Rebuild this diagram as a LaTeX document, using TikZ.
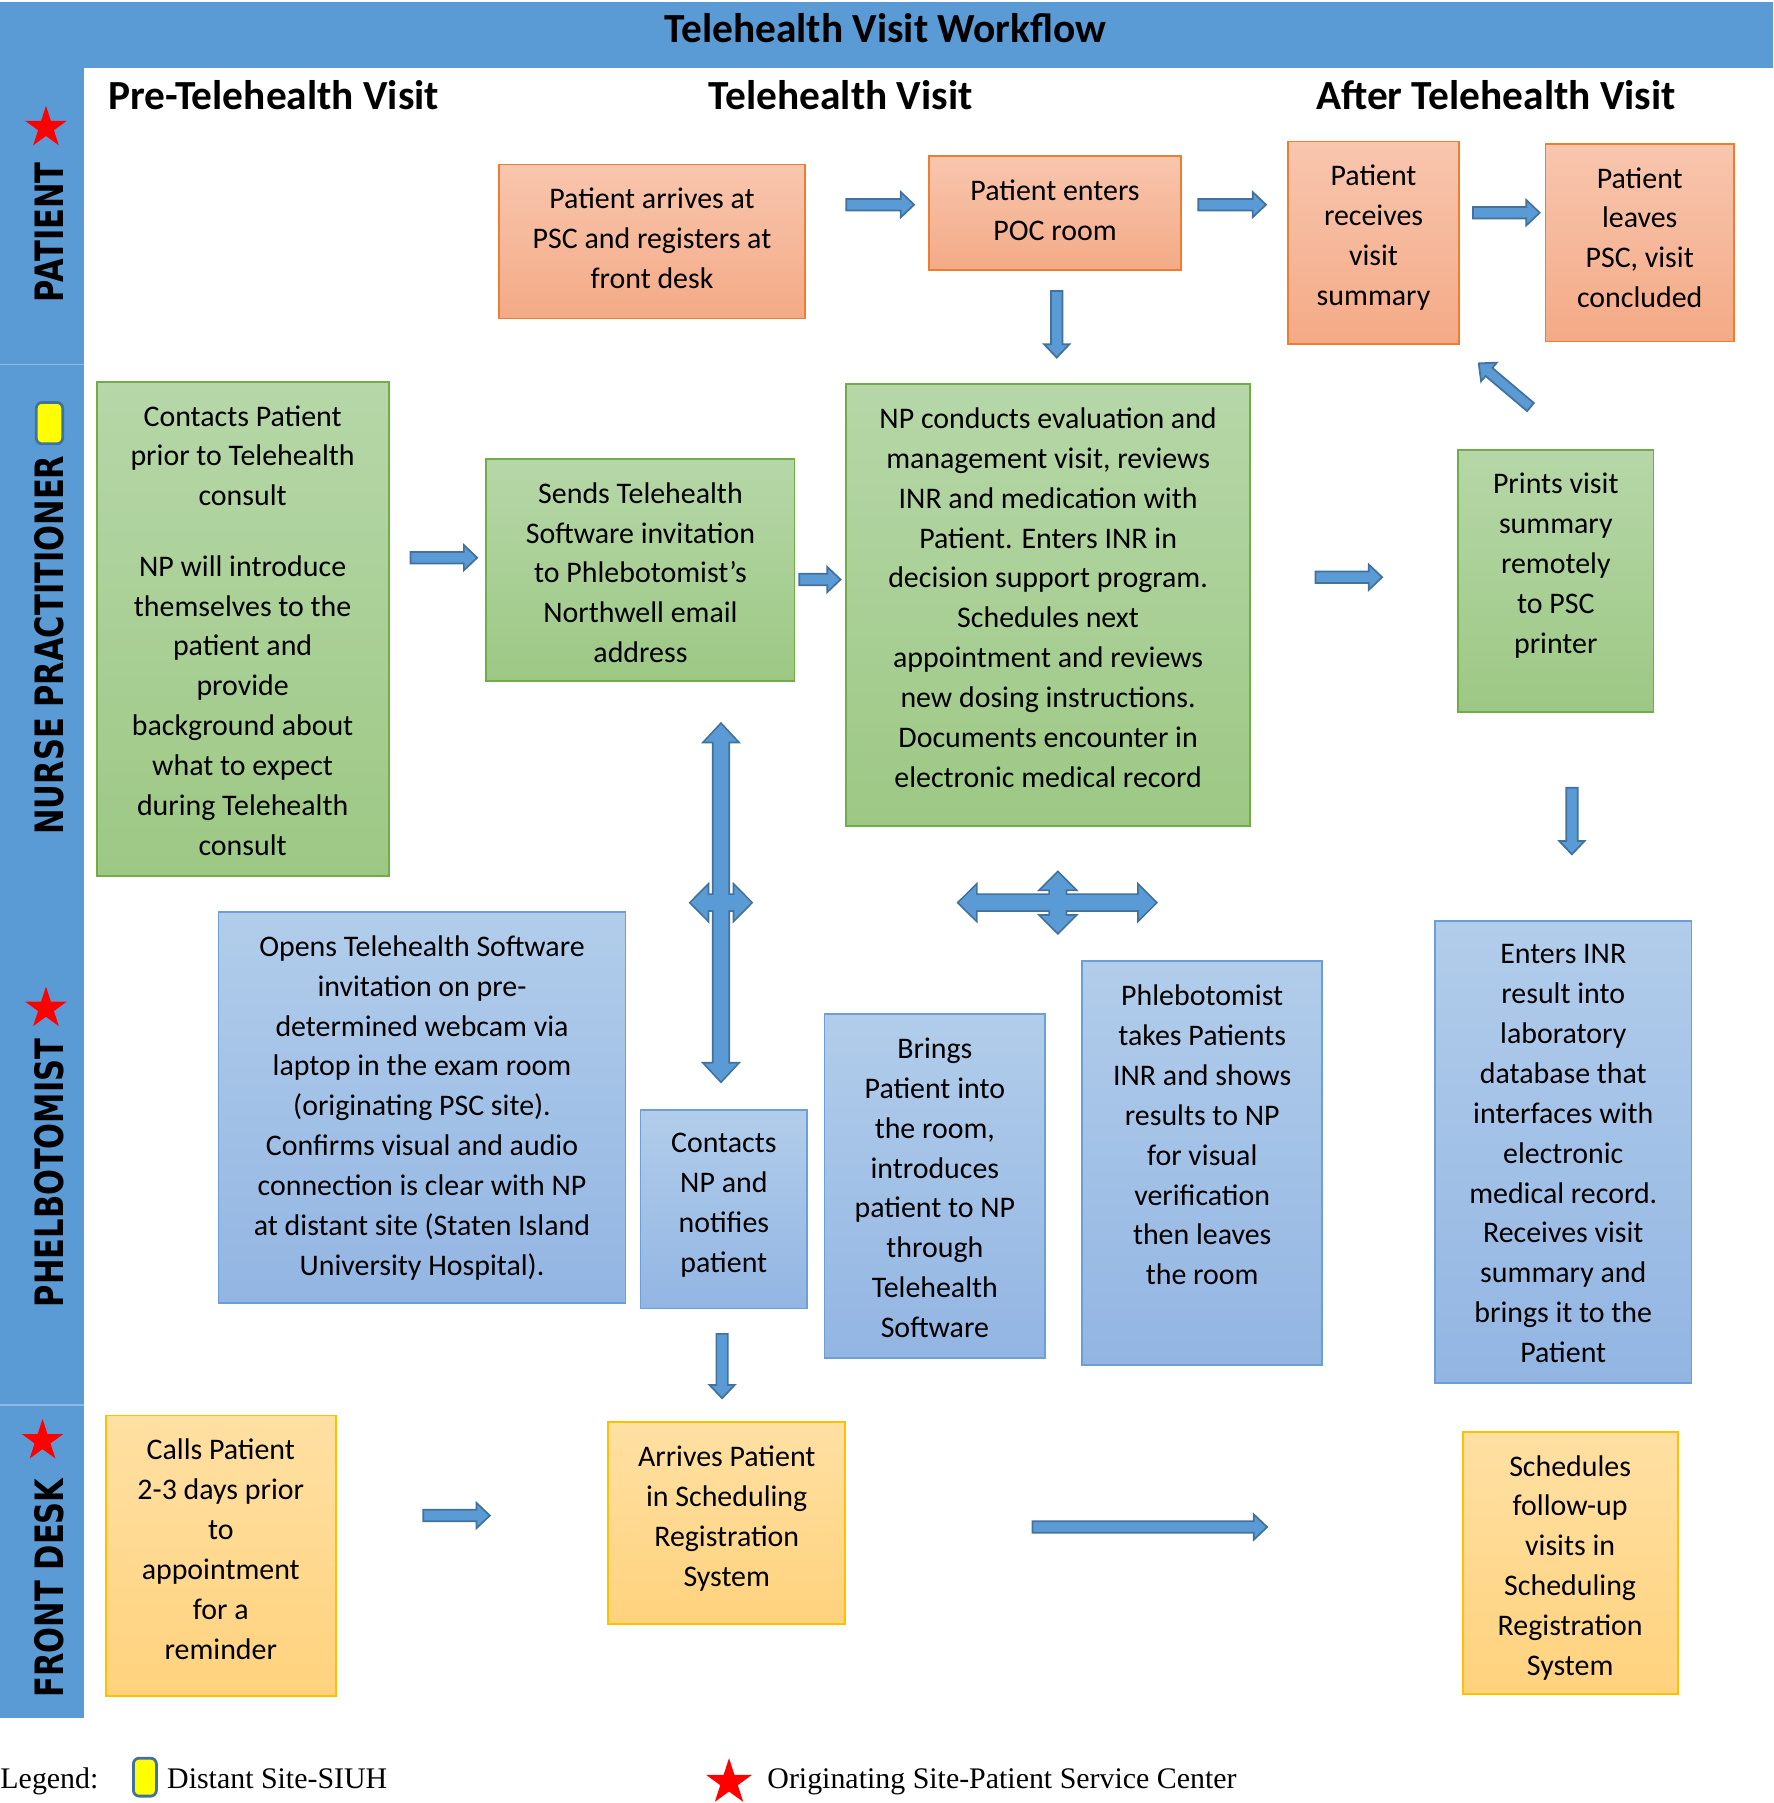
\documentclass[tikz,border=0pt]{standalone}
\usepackage{graphicx}
\usepackage{fontspec}
\setmainfont{Carlito}
\newfontfamily\lanefont{DejaVu Sans}
\newfontfamily\legendfont{Liberation Serif}
\usetikzlibrary{shapes.geometric,calc,fit}

\definecolor{bluebar}{HTML}{5B9BD5}
\definecolor{divcol}{HTML}{8CB8E2}
\definecolor{arrfill}{HTML}{5B9BD5}
\definecolor{arrline}{HTML}{41719C}
\definecolor{otop}{HTML}{F8C6AE}
\definecolor{obot}{HTML}{F4AA86}
\definecolor{oline}{HTML}{ED7D31}
\definecolor{gtop}{HTML}{B6D7A8}
\definecolor{gbot}{HTML}{9DC884}
\definecolor{gline}{HTML}{70AD47}
\definecolor{btop}{HTML}{B2CDEB}
\definecolor{bbot}{HTML}{92B5E2}
\definecolor{bline}{HTML}{6A9FD8}
\definecolor{ytop}{HTML}{FFE0A3}
\definecolor{ybot}{HTML}{FFD27D}
\definecolor{yline}{HTML}{FFC000}
\definecolor{markyellow}{HTML}{FFFF00}

\newcommand\blkarrow[6]{% style, A, B, shaft half, head half, head length
  \path[#1] ($(#2)!#4!90:(#3)$) -- ($(#3)!#6!(#2)!#4!-90:(#2)$) -- ($(#3)!#6!(#2)!#5!-90:(#2)$)
    -- (#3) -- ($(#3)!#6!(#2)!#5!90:(#2)$) -- ($(#3)!#6!(#2)!#4!90:(#2)$) -- ($(#2)!#4!-90:(#3)$) -- cycle;}
\newcommand\dblarrow[6]{% style, A, B, shaft half, head half, head length
  \path[#1] (#2) -- ($(#2)!#6!(#3)!#5!90:(#3)$) -- ($(#2)!#6!(#3)!#4!90:(#3)$)
    -- ($(#3)!#6!(#2)!#4!-90:(#2)$) -- ($(#3)!#6!(#2)!#5!-90:(#2)$) -- (#3)
    -- ($(#3)!#6!(#2)!#5!90:(#2)$) -- ($(#3)!#6!(#2)!#4!90:(#2)$)
    -- ($(#2)!#6!(#3)!#4!-90:(#3)$) -- ($(#2)!#6!(#3)!#5!-90:(#3)$) -- cycle;}

\tikzset{
  wbox/.style={draw, line width=0.8pt, inner sep=0pt},
  obox/.style={wbox, draw=oline, top color=otop, bottom color=obot},
  gbox/.style={wbox, draw=gline, top color=gtop, bottom color=gbot},
  bbox/.style={wbox, draw=bline, top color=btop, bottom color=bbot},
  ybox/.style={wbox, draw=yline, top color=ytop, bottom color=ybot},
  txt/.style={align=center, inner sep=0pt, anchor=north, font=\fontsize{13}{17.33}\selectfont},
  hdr/.style={anchor=base, inner sep=0pt, font=\bfseries\fontsize{18}{22}\selectfont},
  lanelab/.style={rotate=90, anchor=base, inner sep=0pt, font=\lanefont\bfseries\fontsize{17}{20}\selectfont},
  leg/.style={anchor=base west, inner sep=0pt, font=\legendfont\fontsize{13}{15}\selectfont},
  starmark/.style={star, star points=5, star point ratio=2.618, fill=red, draw=none, inner sep=0pt, minimum size=19pt},
  ymark/.style={draw=arrline, line width=1.2pt, fill=markyellow, rounded corners=2.5pt, inner sep=0pt},
  blkarr/.style={fill=arrfill, draw=arrline, line width=0.75pt, line join=miter},
  blkbd/.style={draw=arrline, line width=1.5pt, line join=miter},
  blkfl/.style={fill=arrfill},
}

\begin{document}
\begin{tikzpicture}[x=0.5pt,y=-0.5pt]
\useasboundingbox (0,0) rectangle (1542,1568);

% title bar and side bar
\fill[bluebar] (0,1.5) rectangle (1542,59);
\fill[bluebar] (0,59) rectangle (73,1494);
\draw[divcol, line width=0.6pt] (0,317) -- (73,317);
\draw[divcol, line width=0.6pt] (0,1222) -- (73,1222);
\node[hdr] (title) at (770,37) {Telehealth Visit Workflow};

% column headers
\node[hdr] (h1) at (238,95) {Pre-Telehealth Visit};
\node[hdr] (h2) at (731,95) {Telehealth Visit};
\node[hdr] (h3) at (1301,95) {After Telehealth Visit};

% lane labels
\node[starmark] (st1) at (40,111) {};
\node[lanelab] (lpat) at (55,202) {\scalebox{0.78}[1]{PATIENT}};
\node[ymark, fit={(31.5,350)(54.5,386)}] (ym1) {};
\node[lanelab] (lnp) at (55,561) {\scalebox{0.78}[1]{NURSE PRACTITIONER}};
\node[starmark] (st2) at (40,877) {};
\node[lanelab] (lph) at (55,1020) {\scalebox{0.78}[1]{PHELBOTOMIST}};
\node[starmark] (st3) at (37,1253) {};
\node[lanelab] (lfd) at (55,1381) {\scalebox{0.78}[1]{FRONT DESK}};

% patient lane
\node[obox, fit={(434,143)(700,277)}] (p1) {};
\node[txt] (p1t) at ($(p1.north)+(0,21)$) {Patient arrives at\\PSC and registers at\\front desk};
\node[obox, fit={(808,136)(1027,235)}] (p2) {};
\node[txt] (p2t) at ($(p2.north)+(0,21)$) {Patient enters\\POC room};
\node[obox, fit={(1120,123)(1269,299)}] (p3) {};
\node[txt] (p3t) at ($(p3.north)+(0,21)$) {Patient\\receives\\visit\\summary};
\node[obox, fit={(1344,125)(1508,297)}] (p4) {};
\node[txt] (p4t) at ($(p4.north)+(0,21)$) {Patient\\leaves\\PSC, visit\\concluded};

% nurse practitioner lane
\node[gbox, fit={(84,332)(338,762)}] (n1) {};
\node[txt] (n1t) at ($(n1.north)+(0,21)$) {Contacts Patient\\prior to Telehealth\\consult\\[13.25pt]NP will introduce\\themselves to the\\patient and\\provide\\background about\\what to expect\\during Telehealth\\consult};
\node[gbox, fit={(423,399)(691,592)}] (n2) {};
\node[txt] (n2t) at ($(n2.north)+(0,21)$) {Sends Telehealth\\Software invitation\\to Phlebotomist’s\\Northwell email\\address};
\node[gbox, fit={(736,334)(1087,718)}] (n3) {};
\node[txt] (n3t) at ($(n3.north)+(0,21)$) {NP conducts evaluation and\\management visit, reviews\\INR and medication with\\Patient. Enters INR in\\decision support program.\\Schedules next\\appointment and reviews\\new dosing instructions.\\Documents encounter in\\electronic medical record};
\node[gbox, fit={(1268,391)(1438,619)}] (n4) {};
\node[txt] (n4t) at ($(n4.north)+(0,21)$) {Prints visit\\summary\\remotely\\to PSC\\printer};

% phlebotomist lane
\node[bbox, fit={(190,793)(544,1133)}] (b1) {};
\node[txt] (b1t) at ($(b1.north)+(0,21)$) {Opens Telehealth Software\\invitation on pre-\\determined webcam via\\laptop in the exam room\\(originating PSC site).\\Confirms visual and audio\\connection is clear with NP\\at distant site (Staten Island\\University Hospital).};
\node[bbox, fit={(557,965)(702,1138)}] (b2) {};
\node[txt] (b2t) at ($(b2.north)+(0,21)$) {Contacts\\NP and\\notifies\\patient};
\node[bbox, fit={(717,882)(909,1181)}] (b3) {};
\node[txt] (b3t) at ($(b3.north)+(0,21)$) {Brings\\Patient into\\the room,\\introduces\\patient to NP\\through\\Telehealth\\Software};
\node[bbox, fit={(941,836)(1150,1187)}] (b4) {};
\node[txt] (b4t) at ($(b4.north)+(0,21)$) {Phlebotomist\\takes Patients\\INR and shows\\results to NP\\for visual\\verification\\then leaves\\the room};
\node[bbox, fit={(1248,801)(1471,1203)}] (b5) {};
\node[txt] (b5t) at ($(b5.north)+(0,21)$) {Enters INR\\result into\\laboratory\\database that\\interfaces with\\electronic\\medical record.\\Receives visit\\summary and\\brings it to the\\Patient};

% front desk lane
\node[ybox, fit={(92,1231)(292,1475)}] (f1) {};
\node[txt] (f1t) at ($(f1.north)+(0,21)$) {Calls Patient\\2-3 days prior\\to\\appointment\\for a\\reminder};
\node[ybox, fit={(529,1237)(735,1412)}] (f2) {};
\node[txt] (f2t) at ($(f2.north)+(0,21)$) {Arrives Patient\\in Scheduling\\Registration\\System};
\node[ybox, fit={(1272,1245)(1459,1473)}] (f3) {};
\node[txt] (f3t) at ($(f3.north)+(0,21)$) {Schedules\\follow-up\\visits in\\Scheduling\\Registration\\System};

% arrow end points
\coordinate (a1s) at (736,178);  \coordinate (a1e) at (795,178);
\coordinate (a2s) at (1042,178); \coordinate (a2e) at (1101,178);
\coordinate (a3s) at (1281,185); \coordinate (a3e) at (1339,185);
\coordinate (a4s) at (357,485);  \coordinate (a4e) at (415,485);
\coordinate (a5s) at (695,504);  \coordinate (a5e) at (731,504);
\coordinate (a6s) at (1144,502); \coordinate (a6e) at (1202,502);
\coordinate (a7s) at (368,1318); \coordinate (a7e) at (426,1318);
\coordinate (a8s) at (898,1328); \coordinate (a8e) at (1102,1328);
\coordinate (a9s) at (919,253);  \coordinate (a9e) at (919,311);
\coordinate (a10s) at (1367,685); \coordinate (a10e) at (1367,743);
\coordinate (a11s) at (628,1160); \coordinate (a11e) at (628,1216);
\coordinate (a12s) at (1331,354); \coordinate (a12e) at (1286,316);
\coordinate (c1a) at (627,630);  \coordinate (c1b) at (627,940);
\coordinate (c2a) at (601,785);  \coordinate (c2b) at (653,785);
\coordinate (c3a) at (834,785);  \coordinate (c3b) at (1005,785);
\coordinate (c4a) at (920,759);  \coordinate (c4b) at (920,811);

% single block arrows
\blkarrow{blkarr}{a1s}{a1e}{2.5pt}{5.5pt}{5.8pt}
\blkarrow{blkarr}{a2s}{a2e}{2.5pt}{5.5pt}{5.8pt}
\blkarrow{blkarr}{a3s}{a3e}{2.5pt}{5.5pt}{5.8pt}
\blkarrow{blkarr}{a4s}{a4e}{2.5pt}{5.5pt}{5.8pt}
\blkarrow{blkarr}{a5s}{a5e}{2.5pt}{5.5pt}{5.8pt}
\blkarrow{blkarr}{a6s}{a6e}{2.5pt}{5.5pt}{5.8pt}
\blkarrow{blkarr}{a7s}{a7e}{2.5pt}{5.5pt}{5.8pt}
\blkarrow{blkarr}{a8s}{a8e}{2.5pt}{5.5pt}{5.8pt}
\blkarrow{blkarr}{a9s}{a9e}{2.5pt}{5.5pt}{5.8pt}
\blkarrow{blkarr}{a10s}{a10e}{2.5pt}{5.5pt}{5.8pt}
\blkarrow{blkarr}{a11s}{a11e}{2.5pt}{5.5pt}{5.8pt}
\blkarrow{blkarr}{a12s}{a12e}{2.3pt}{5.3pt}{5.8pt}

% cross-shaped double arrows (outline pass, then fill pass)
\dblarrow{blkbd}{c1a}{c1b}{3.25pt}{7pt}{7.5pt}
\dblarrow{blkbd}{c2a}{c2b}{3.25pt}{7.25pt}{7.15pt}
\dblarrow{blkbd}{c3a}{c3b}{3.25pt}{7.25pt}{7.3pt}
\dblarrow{blkbd}{c4a}{c4b}{3.4pt}{7.25pt}{7.25pt}
\dblarrow{blkfl}{c1a}{c1b}{3.25pt}{7pt}{7.5pt}
\dblarrow{blkfl}{c2a}{c2b}{3.25pt}{7.25pt}{7.15pt}
\dblarrow{blkfl}{c3a}{c3b}{3.25pt}{7.25pt}{7.3pt}
\dblarrow{blkfl}{c4a}{c4b}{3.4pt}{7.25pt}{7.25pt}

% legend
\node[leg] (lg0) at (0,1555) {Legend:};
\node[ymark, fit={(116,1529)(136,1562)}] (lgm) {};
\node[leg] (lg1) at (145,1555) {Distant Site-SIUH};
\node[starmark, minimum size=21pt] (lgs) at (634,1550) {};
\node[leg] (lg2) at (667,1555) {Originating Site-Patient Service Center};
\end{tikzpicture}
\end{document}
